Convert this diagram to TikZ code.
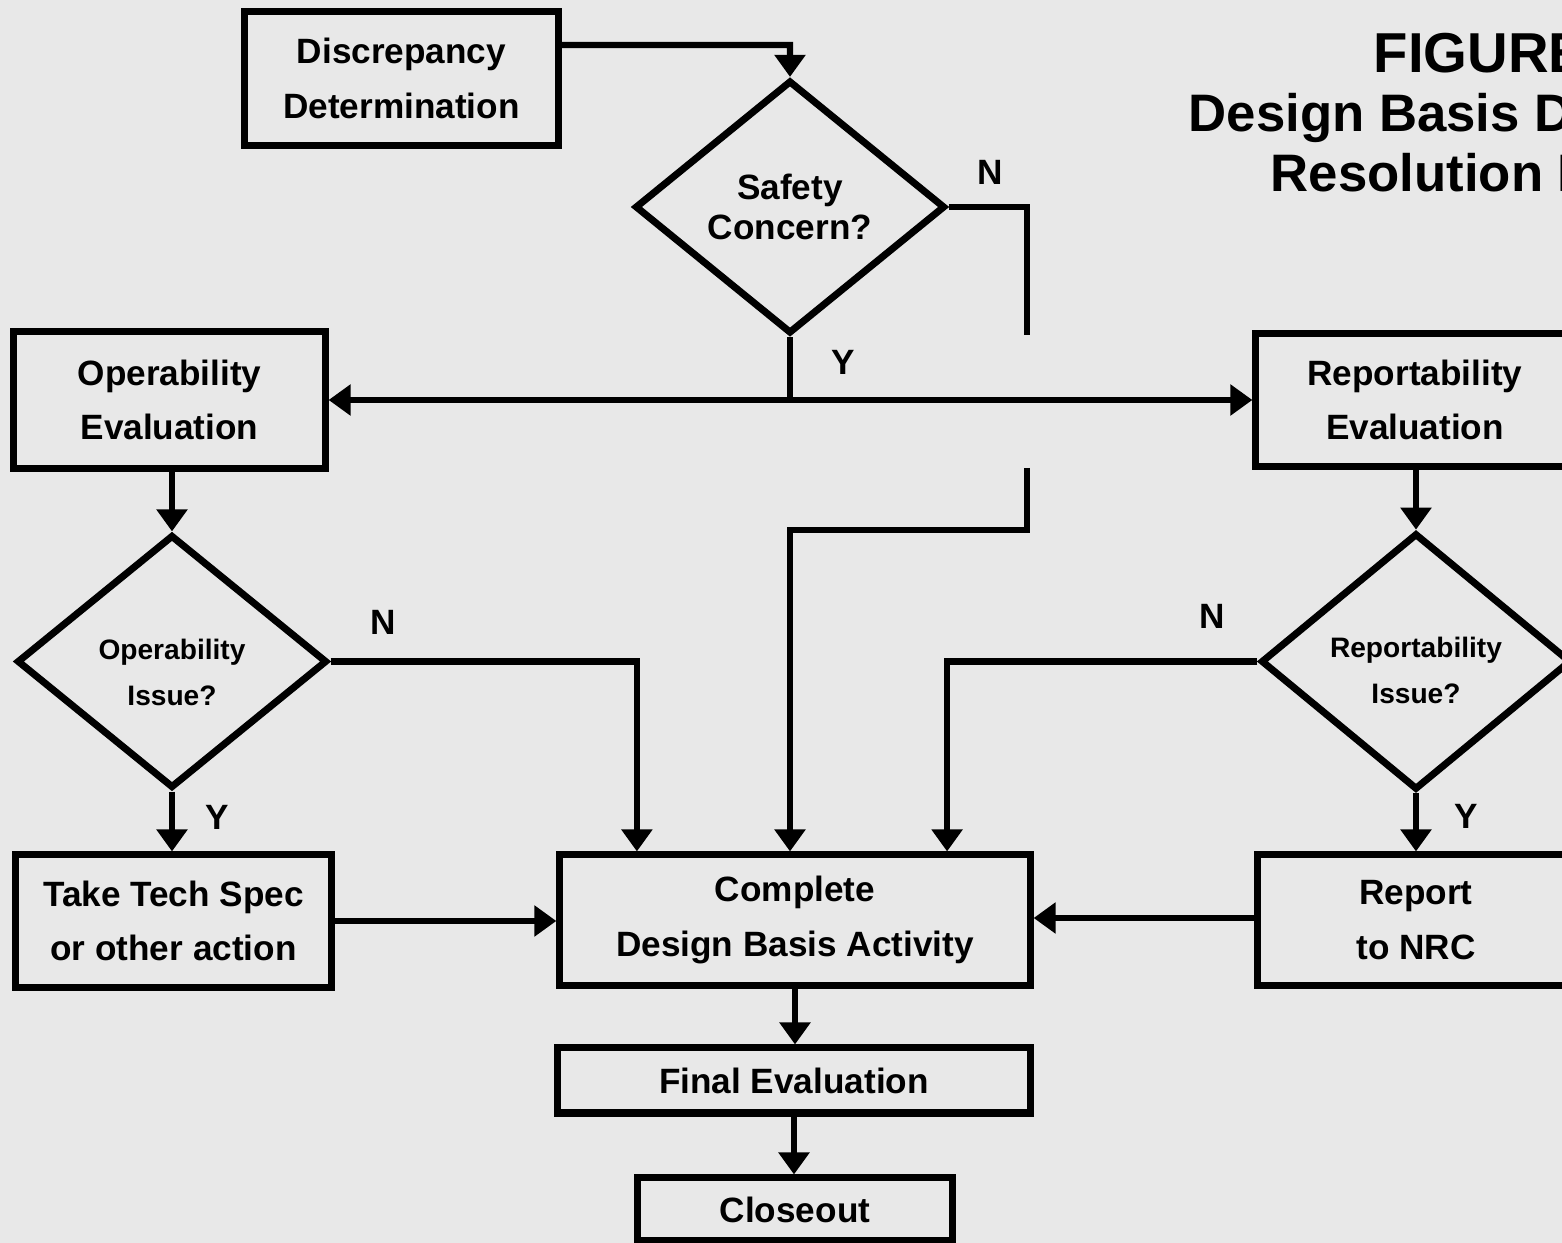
\documentclass[tikz,border=0pt]{standalone}
\usepackage{fontspec}
\setmainfont{Liberation Sans}
\usetikzlibrary{shapes.geometric,arrows.meta}
\definecolor{paper}{RGB}{232,232,232}
\begin{document}
\begin{tikzpicture}[x=0.01cm,y=-0.01cm,
 box/.style={draw,line width=2pt,inner sep=0pt,align=center,font=\bfseries\fontsize{10}{15.5}\selectfont},
 dia/.style={draw,diamond,line width=2pt,inner sep=0pt,align=center,minimum width=3.1cm,minimum height=2.53cm},
 arr/.style={line width=1.8pt,-{Triangle[width=0.3cm,length=0.22cm]}},
 ln/.style={line width=1.8pt},
 lab/.style={font=\bfseries\fontsize{10}{12}\selectfont,inner sep=0pt},
 ttl/.style={font=\bfseries\fontsize{15}{17}\selectfont,anchor=base west,inner sep=0pt}]
\useasboundingbox (0,0) rectangle (1562,1243);
\fill[paper] (0,0) rectangle (1562,1243);
\clip (0,0) rectangle (1562,1243);

% title (cut off at the right edge, as in the reference)
\node[ttl,font=\bfseries\fontsize{16}{18}\selectfont] (t1) at (1373,73) {FIGURE};
\node[ttl] (t2) at (1188,132) {Design Basis Di};
\node[ttl] (t3) at (1270,192) {Resolution P};

% nodes
\node[box,minimum width=3.13cm,minimum height=1.33cm] (disc) at (401.5,78.5) {Discrepancy\\Determination};
\node[dia,font=\bfseries\fontsize{10}{11.5}\selectfont] (safety) at (790,207) {Safety\\Concern?};
\node[box,minimum width=3.11cm,minimum height=1.36cm] (opeval) at (169.5,400) {Operability\\Evaluation};
\node[box,minimum width=3.18cm,minimum height=1.32cm] (repeval) at (1415,400) {Reportability\\Evaluation};
\node[dia,font=\bfseries\fontsize{8}{13}\selectfont] (opissue) at (172,661.5) {\rule{0pt}{12pt}Operability\\Issue?};
\node[dia,font=\bfseries\fontsize{8}{13}\selectfont] (repissue) at (1416,661.5) {\rule{0pt}{11pt}Reportability\\Issue?};
\node[box,minimum width=3.15cm,minimum height=1.32cm] (tech) at (173.5,921) {Take Tech Spec\\or other action};
\node[box,minimum width=4.70cm,minimum height=1.30cm] (complete) at (795,920) {Complete\\Design Basis Activity};
\node[box,minimum width=3.16cm,minimum height=1.30cm] (report) at (1416,920) {Report\\to NRC};
\node[box,minimum width=4.72cm,minimum height=0.65cm] (final) at (794,1080.5) {Final Evaluation};
\node[box,minimum width=3.14cm,minimum height=0.63cm] (close) at (795,1209.5) {Closeout};

% labels
\node[lab] (lN1) at (990,172) {N};
\node[lab] (lY1) at (843,362) {Y};
\node[lab] (lN2) at (383,622) {N};
\node[lab] (lY2) at (217,817) {Y};
\node[lab] (lN3) at (1212,616) {N};
\node[lab] (lY3) at (1466,816) {Y};

% helper coordinates
\coordinate (dtop) at (790,45);
\coordinate (hub) at (790,400);
\coordinate (nA) at (1027,207);
\coordinate (nB) at (1027,335);
\coordinate (nC) at (1027,468);
\coordinate (nD) at (1027,530);

% connectors
\draw[arr] ([yshift=0.335cm]disc.east) -- (dtop) -- (safety.north);
\draw[ln] (safety.east) -- (nA) -- (nB);
\draw[arr] (nC) -- (nD) -| ([xshift=-0.05cm]complete.north);
\draw[ln] (safety.south) -- (hub);
\draw[arr] (hub) -- (opeval.east);
\draw[arr] (hub) -- (repeval.west);
\draw[arr] (opissue.north |- opeval.south) -- (opissue.north);
\draw[arr] (repissue.north |- repeval.south) -- (repissue.north);
\draw[arr] (opissue.east) -| ([xshift=-1.58cm]complete.north);
\draw[arr] (repissue.west) -| ([xshift=1.52cm]complete.north);
\draw[arr] (opissue.south) -- (opissue.south |- tech.north);
\draw[arr] (repissue.south) -- (repissue.south |- report.north);
\draw[arr] (tech.east) -- (tech.east -| complete.west);
\draw[arr] ([yshift=0.02cm]report.west) -- ([yshift=0.02cm]complete.east);
\draw[arr] (complete.south) -- (complete.south |- final.north);
\draw[arr] (final.south) -- (final.south |- close.north);
\end{tikzpicture}
\end{document}
